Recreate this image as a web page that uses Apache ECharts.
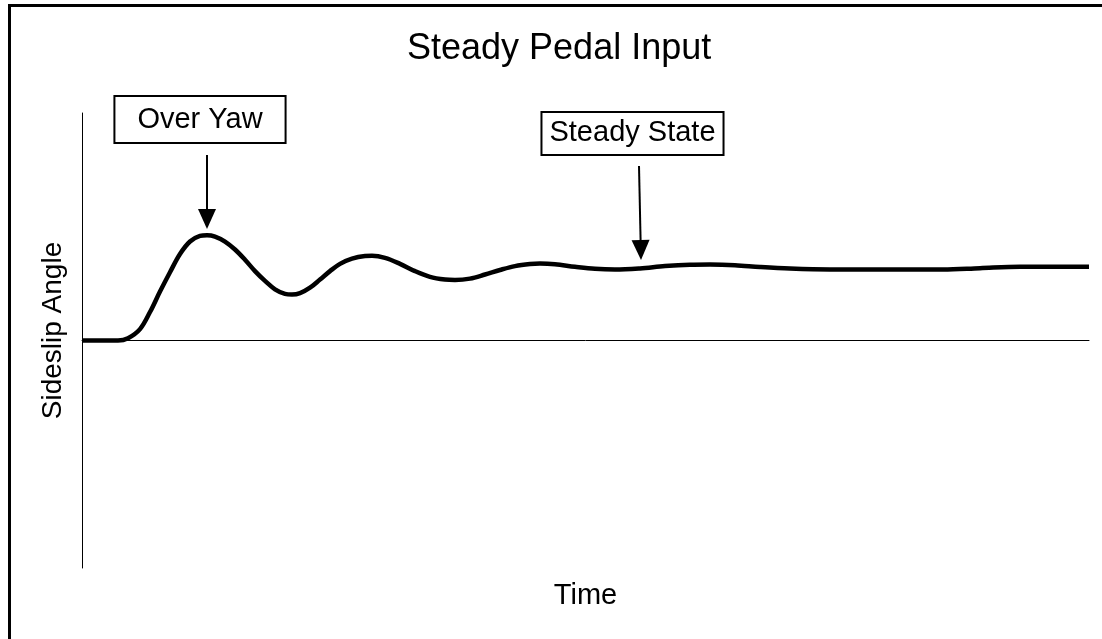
<!DOCTYPE html>
<html>
<head>
<meta charset="utf-8">
<script src="https://cdn.jsdelivr.net/npm/echarts@6/dist/echarts.min.js"></script>
<style>
  html, body { margin: 0; padding: 0; background: #fff; }
  #chart { width: 1102px; height: 639px; }
</style>
</head>
<body>
<div id="chart"></div>
<script>
var FONT = "'Liberation Sans', Arial, sans-serif";

// response curve (time in arbitrary units, sideslip normalised)
var timeValues = [0, 20, 36, 46, 58, 68, 78, 88, 98, 108, 118, 125, 133, 143, 153, 163,
  173, 183, 193, 203, 210, 218, 228, 238, 248, 258, 270, 283, 290, 303, 318, 333, 348,
  363, 373, 388, 403, 418, 433, 448, 458, 473, 493, 513, 533, 558, 583, 608, 628, 653,
  678, 708, 748, 798, 861, 898, 938, 1007];
var slipValues = [0, 0, 0, 0.01, 0.05, 0.125, 0.215, 0.3, 0.38, 0.435, 0.46, 0.463,
  0.457, 0.435, 0.4, 0.355, 0.305, 0.262, 0.225, 0.205, 0.202, 0.208, 0.232, 0.268,
  0.305, 0.337, 0.36, 0.371, 0.372, 0.363, 0.337, 0.305, 0.28, 0.268, 0.266, 0.272,
  0.29, 0.31, 0.327, 0.336, 0.338, 0.335, 0.324, 0.315, 0.312, 0.317, 0.327, 0.333,
  0.334, 0.331, 0.323, 0.316, 0.312, 0.312, 0.312, 0.318, 0.324, 0.324];

// callouts: label, box centre [t, v], arrow start and arrow end [t, v]
var noteLabels = ["Over Yaw", "Steady State"];
var noteBoxes = [[118, 0.971], [550.5, 0.91]];
var noteArrowFrom = [[125, 0.815], [557, 0.767]];
var noteArrowTo = [[125, 0.534], [558.8, 0.398]];
var notePadding = [[8, 22, 8, 22], [6, 7, 6, 7]];

var chart = echarts.init(document.getElementById("chart"));

chart.setOption({
  animation: false,
  backgroundColor: "#fff",
  title: {
    text: "Steady Pedal Input",
    left: 407,
    top: 31,
    padding: 0,
    textStyle: { fontFamily: FONT, fontSize: 36, fontWeight: "normal", color: "#000" }
  },
  graphic: [
    {
      type: "rect",
      shape: { x: 9.5, y: 5.5, width: 1200, height: 700 },
      style: { fill: "none", stroke: "#000", lineWidth: 3 },
      silent: true
    }
  ],
  grid: { left: 82, right: 13, top: 113, bottom: 71, outerBoundsMode: "none", containLabel: false },
  xAxis: {
    type: "value",
    min: 0,
    max: 1007,
    name: "Time",
    nameLocation: "middle",
    nameGap: 13,
    nameTextStyle: { fontFamily: FONT, fontSize: 29, color: "#000" },
    axisLine: { onZero: true, lineStyle: { color: "#000", width: 1 } },
    axisTick: { show: false },
    axisLabel: { show: false },
    splitLine: { show: false }
  },
  yAxis: {
    type: "value",
    min: -1,
    max: 1,
    name: "Sideslip Angle",
    nameLocation: "middle",
    nameGap: 15,
    nameTextStyle: { fontFamily: FONT, fontSize: 28, color: "#000", padding: [0, 0, 0, 20] },
    axisLine: { show: true, onZero: false, lineStyle: { color: "#000", width: 1 } },
    axisTick: { show: false },
    axisLabel: { show: false },
    splitLine: { show: false }
  },
  series: [
    {
      type: "line",
      data: timeValues.map(function (t, i) { return [t, slipValues[i]]; }),
      smooth: 0.35,
      showSymbol: false,
      lineStyle: { color: "#000", width: 4.5 },
      markPoint: {
        silent: true,
        symbol: "circle",
        symbolSize: 1,
        itemStyle: { color: "rgba(0,0,0,0)" },
        label: {
          show: true,
          position: "inside",
          color: "#000",
          fontFamily: FONT,
          fontSize: 29,
          lineHeight: 29,
          backgroundColor: "#fff",
          borderColor: "#000",
          borderWidth: 2
        },
        data: noteLabels.map(function (txt, i) {
          return { coord: noteBoxes[i], label: { formatter: txt, padding: notePadding[i] } };
        })
      },
      markLine: {
        silent: true,
        symbol: ["none", "triangle"],
        symbolSize: [18, 20],
        label: { show: false },
        lineStyle: { color: "#000", width: 2, type: "solid" },
        data: noteLabels.map(function (txt, i) {
          return [{ coord: noteArrowFrom[i] }, { coord: noteArrowTo[i] }];
        })
      }
    }
  ]
});
</script>
</body>
</html>
